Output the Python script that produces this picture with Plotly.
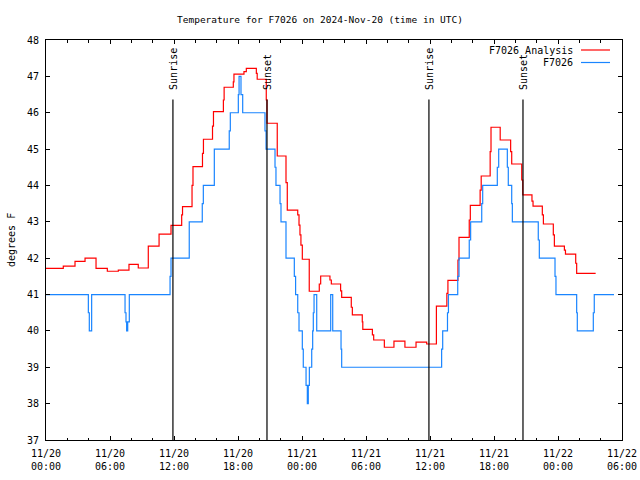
import pandas as pd
import plotly.graph_objects as go

BASE = pd.Timestamp("2024-11-20 00:00")

# F7026 Analysis (red) - hours since 2024-11-20 00:00 UTC and temperature (F)
analysis_hours = [0.0, 1.62, 2.72, 3.66, 4.69, 5.75, 6.78, 7.78, 8.65, 9.59, 10.6, 11.72,
                  12.72, 12.8, 13.69, 13.78, 14.67, 14.76, 15.61, 15.7, 16.63, 16.7, 17.56, 17.62,
                  18.56, 18.78, 19.72, 19.8, 20.65, 20.72, 21.68, 22.5, 22.62, 23.6, 23.72, 23.81,
                  23.9, 24.03, 24.68, 25.62, 25.75, 26.62, 26.75, 27.62, 27.72, 28.62, 28.72, 29.65,
                  29.7, 30.6, 30.72, 31.72, 32.62, 33.65, 34.69, 35.69, 36.6, 37.58, 37.68, 38.62,
                  38.72, 39.68, 39.78, 40.7, 40.8, 41.64, 41.72, 42.58, 43.56, 43.66, 44.6, 44.7,
                  45.56, 45.66, 46.53, 46.63, 47.56, 47.66, 48.6, 48.7, 49.66, 49.75, 51.53]
analysis_temps = [41.72, 41.78, 41.91, 42.00, 41.72, 41.64, 41.67, 41.83, 41.73, 42.33, 42.66, 42.90,
                  43.19, 43.42, 44.00, 44.52, 44.88, 45.27, 45.63, 46.03, 46.35, 46.70, 46.85, 47.06,
                  47.13, 47.22, 47.08, 46.92, 46.35, 45.71, 44.81, 44.08, 43.32, 43.19, 42.91, 42.64,
                  42.36, 41.97, 41.09, 41.29, 41.51, 41.40, 41.29, 41.10, 40.92, 40.65, 40.44, 40.25,
                  40.04, 39.89, 39.75, 39.55, 39.72, 39.55, 39.69, 39.64, 40.68, 41.03, 41.39, 41.95,
                  42.57, 43.05, 43.45, 43.87, 44.26, 44.93, 45.60, 45.25, 44.93, 44.59, 44.15, 43.74,
                  43.57, 43.43, 43.19, 42.94, 42.64, 42.33, 42.22, 42.11, 41.86, 41.58, 41.58]

# F7026 observations (blue)
obs_hours = [0.0, 3.97, 4.06, 4.28, 7.41, 7.5, 7.56, 7.66, 7.81, 11.63, 11.72, 13.43,
             14.65, 14.75, 15.78, 17.18, 17.28, 18.03, 18.1, 18.28, 18.44, 20.53, 20.63,
             21.47, 21.56, 21.94, 22.03, 22.5, 23.28, 23.4, 23.6, 23.72, 24.03, 24.12,
             24.38, 24.5, 24.59, 24.69, 24.91, 25.0, 25.06, 25.13, 25.38, 26.69, 26.88,
             27.66, 27.72, 37.09, 37.19, 37.64, 37.73, 38.6, 38.72, 39.68, 39.81, 40.85,
             40.94, 42.31, 42.44, 43.25, 43.34, 43.66, 43.72, 46.15, 46.25, 47.72, 47.81,
             49.75, 49.81, 51.31, 51.4, 53.25]
obs_temps = [41, 40.5, 40, 41, 40.5, 40.25, 40, 40.25, 41, 41.5, 42, 43,
             43.5, 44, 45, 45.5, 46, 46.5, 47, 46.5, 46, 45.5, 45,
             44.5, 44, 43.5, 43, 42, 41.5, 41, 40.5, 40, 39.5, 39,
             38.5, 38, 38.5, 39, 39.5, 40, 40.5, 41, 40, 41, 40,
             39.5, 39, 39.5, 40, 40.5, 41, 41.5, 42, 42.5, 43, 43.5,
             44, 44.5, 45, 44.5, 44, 43.5, 43, 42.5, 42, 41.5, 41,
             40.5, 40, 40.5, 41, 41]

sun_event_times = ["2024-11-20 11:54", "2024-11-20 20:43", "2024-11-21 11:54", "2024-11-21 20:43"]
sun_event_labels = ["Sunrise", "Sunset", "Sunrise", "Sunset"]

tick_times = ["2024-11-20 00:00", "2024-11-20 06:00", "2024-11-20 12:00", "2024-11-20 18:00",
              "2024-11-21 00:00", "2024-11-21 06:00", "2024-11-21 12:00", "2024-11-21 18:00",
              "2024-11-22 00:00", "2024-11-22 06:00"]
tick_labels = ["11/20<br>00:00", "11/20<br>06:00", "11/20<br>12:00", "11/20<br>18:00",
               "11/21<br>00:00", "11/21<br>06:00", "11/21<br>12:00", "11/21<br>18:00",
               "11/22<br>00:00", "11/22<br>06:00"]
y_ticks = list(range(37, 49))

series_names = ["F7026 Analysis", "F7026"]
series_colors = ["#ff0000", "#1a85ff"]

FONT = "DejaVu Sans Mono"

ax = BASE + pd.to_timedelta(analysis_hours, unit="h")
ox = BASE + pd.to_timedelta(obs_hours, unit="h")

fig = go.Figure()
fig.add_trace(go.Scatter(x=ax, y=analysis_temps, mode="lines", line_shape="hv",
                         line=dict(color=series_colors[0], width=1.2), name=series_names[0]))
fig.add_trace(go.Scatter(x=ox, y=obs_temps, mode="lines", line_shape="hv",
                         line=dict(color=series_colors[1], width=1.2), name=series_names[1]))

# plot area in px: x 46..622, y 40..440
def px_x(p):
    return (p - 46) / 576.0

def px_y(p):
    return (440 - p) / 400.0

shapes = []
annotations = []
for t, lab in zip(sun_event_times, sun_event_labels):
    shapes.append(dict(type="line", xref="x", yref="paper", x0=t, x1=t, y0=0, y1=px_y(99.5),
                       line=dict(color="black", width=1.2)))
    annotations.append(dict(x=t, y=px_y(92), xref="x", yref="paper", text=lab, textangle=-90,
                            showarrow=False, xanchor="center", yanchor="bottom",
                            font=dict(family=FONT, size=10, color="black")))

# legend drawn gnuplot-style (text left, sample right)
for i, (nm, col) in enumerate(zip(series_names, series_colors)):
    yy = 50 + i * 12.5
    annotations.append(dict(x=px_x(575), y=px_y(yy), xref="paper", yref="paper", text=nm,
                            showarrow=False, xanchor="right", yanchor="middle",
                            font=dict(family=FONT, size=10, color="black")))
    shapes.append(dict(type="line", xref="paper", yref="paper", x0=px_x(581), x1=px_x(610),
                       y0=px_y(yy), y1=px_y(yy), line=dict(color=col, width=1.2)))

annotations.append(dict(x=px_x(11), y=px_y(240), xref="paper", yref="paper", text="degrees F",
                        textangle=-90, showarrow=False, xanchor="center", yanchor="middle",
                        font=dict(family=FONT, size=10, color="black")))

fig.update_layout(
    width=640, height=480,
    margin=dict(l=46, r=18, t=40, b=40, autoexpand=False),
    paper_bgcolor="white", plot_bgcolor="white",
    showlegend=False,
    title=dict(text="Temperature for F7026 on 2024-Nov-20 (time in UTC)", x=0.5, xanchor="center",
               y=1 - 20 / 480, yanchor="middle", automargin=False,
               font=dict(family=FONT, size=9.5, color="black")),
    font=dict(family=FONT, size=10, color="black"),
    shapes=shapes, annotations=annotations,
)
fig.update_xaxes(type="date", range=[tick_times[0], tick_times[-1]], automargin=False,
                 tickvals=tick_times, ticktext=tick_labels,
                 showgrid=False, zeroline=False, showline=True, linecolor="black", linewidth=1,
                 mirror="ticks", ticks="inside", ticklen=4, tickcolor="black",
                 ticklabelstandoff=4,
                 minor=dict(dtick=2 * 3600 * 1000, tick0=tick_times[0], ticks="inside",
                            ticklen=2.5, tickcolor="black", showgrid=False),
                 tickfont=dict(family=FONT, size=10))
fig.update_yaxes(range=[37, 48], tickvals=y_ticks, ticktext=[str(v) for v in y_ticks],
                 automargin=False,
                 showgrid=False, zeroline=False, showline=True, linecolor="black", linewidth=1,
                 mirror="ticks", ticks="inside", ticklen=4, tickcolor="black",
                 ticklabelstandoff=4,
                 tickfont=dict(family=FONT, size=10))

fig.write_html("out.html", config={"displayModeBar": False},
               post_script="document.body.style.margin='0';document.body.style.padding='0';")
